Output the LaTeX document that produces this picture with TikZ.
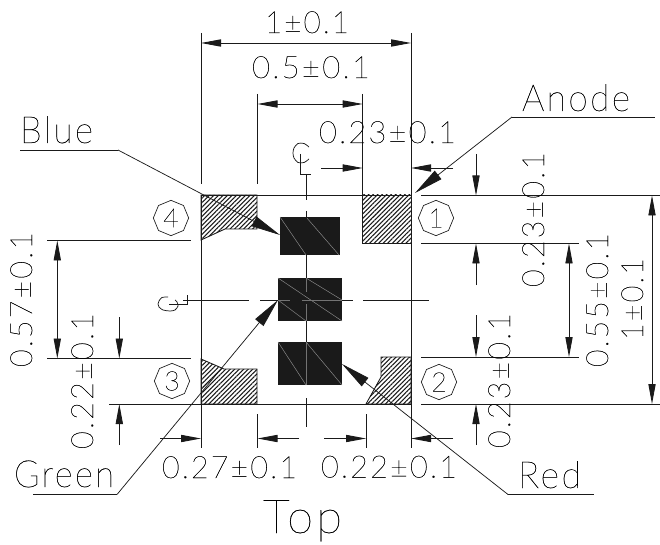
\documentclass[tikz,border=0pt]{standalone}
\usepackage{fontspec}
\usepackage{graphicx}
\setmainfont{Lato}[UprightFont=* Thin,LetterSpace=7,FakeBold=0.45]
\usetikzlibrary{arrows.meta,patterns.meta,shapes.geometric}
\newdimen\labw
\newcommand\fitlab[3]{\labw=#1pt\labw=.75\labw\resizebox{\labw}{\height}{\fontsize{#2}{#2}\selectfont #3}}
\definecolor{ink}{HTML}{1A1A1A}
\tikzset{
  lab/.style={inner sep=0pt,outer sep=0pt,anchor=base west,text=black},
  vlab/.style={lab,rotate=90},
  ln/.style={line width=.65pt,draw=ink},
  tin/.style={line width=.55pt,draw=ink},
  dimA/.style={ln,{Triangle[length=15pt,width=5.4pt]}-{Triangle[length=15pt,width=5.4pt]}},
  dimE/.style={ln,-{Triangle[length=15pt,width=5.4pt]}},
  lead/.style={tin,-{Triangle[length=22pt,width=8pt]}},
  pad/.style={ln,pattern={Lines[angle=45,distance=2.4pt,line width=.8pt]},pattern color=ink},
  chip/.style={fill=ink,draw=none},
  slash/.style={line width=.35pt,draw=black!45},
  slashc/.style={line width=.5pt,draw=black!55},
  ball/.style={regular polygon,regular polygon sides=8,shape border rotate=22.5,draw=ink,line width=.5pt,minimum size=26.5pt,inner sep=0pt,font=\fontsize{20}{20}\selectfont,text=black}
}
\begin{document}
\begin{tikzpicture}[x=.75pt,y=-.75pt]
\useasboundingbox (0,0) rectangle (660,545);
\fill[white] (0,0) rectangle (660,545);
% pads
\draw[pad] (201,195) -- (257,195) -- (257,229) -- (225,229) -- (201,240) -- cycle;
\draw[pad] (362.7,195) -- (411,195) -- (411,243) -- (362.7,243) -- cycle;
\draw[pad] (201,359) -- (224,369) -- (257,369) -- (257,404) -- (201,404) -- cycle;
\draw[pad] (381,357) -- (411,357) -- (411,404) -- (366,404) -- (381,377) -- cycle;
% chips
\fill[chip] (280,217) rectangle (339.5,255);
\fill[chip] (278,278) rectangle (342,321);
\fill[chip] (278,342) rectangle (342,385);
\draw[slash] (280,217) -- (306,255);
\draw[slash] (306,217) -- (339,255);
\draw[slash] (278,278) -- (342,321);
\draw[slash] (278,300) -- (306,321);
\draw[slash] (306,278) -- (342,300);
\draw[slash] (278,342) -- (306,385);
\draw[slash] (306,342) -- (342,385);
% outline lines
\draw[ln] (201,33) -- (201,184);
\draw[ln] (201,195) -- (201,448);
\draw[ln] (411,33) -- (411,448);
\draw[ln] (257.5,94) -- (257.5,184);
\draw[ln] (362.7,94) -- (362.7,195);
\draw[ln] (257.5,414) -- (257.5,448);
\draw[ln] (366,414) -- (366,448);
\draw[ln] (201,195.5) -- (411,195.5);
\draw[ln] (421,195.5) -- (660,195.5);
\draw[ln] (109,404) -- (411,404);
\draw[ln] (421,404) -- (660,404);
\draw[ln] (47,240.5) -- (191,240.5);
\draw[ln] (47,358.5) -- (191,358.5);
\draw[ln] (421,243.5) -- (579,243.5);
\draw[ln] (421,357) -- (579,357);
% centre lines
\draw[ln] (306,174) -- (306,200);
\draw[ln] (306,211) -- (306,278);
\draw[slashc] (306,278) -- (306,292);
\draw[slashc] (306,304) -- (306,321);
\draw[ln] (306,321) -- (306,342);
\draw[slashc] (306,342) -- (306,385);
\draw[ln] (306,398) -- (306,427);
\draw[ln] (183,300) -- (249,300);
\draw[ln] (260,300) -- (278,300);
\draw[slashc] (278,300) -- (290,300);
\draw[slashc] (302,300) -- (342,300);
\draw[ln] (342,300) -- (353,300);
\draw[ln] (363,300) -- (429,300);
% centre-line symbols
\draw[tin] plot[smooth] coordinates {(309,147) (304,143.5) (298,143.5) (294,148) (293,153) (294,158) (298,162.5) (304,162.5) (309,159)};
\draw[tin] (300,154) -- (300,174) -- (311,174);
\draw[tin] plot[smooth] coordinates {(168,297) (162,297.5) (159,301) (158,304) (159,307) (163,310) (170,311) (175,310) (178,306) (177,302) (175,300)};
\draw[tin] (169,304) -- (187,304) -- (187,295);
% horizontal dimensions
\draw[dimA] (201,43) -- (411,43);
\draw[dimA] (257.5,104) -- (362.7,104);
\draw[dimE] (321,168) -- (362.7,168);
\draw[dimE] (453,168) -- (411,168);
\draw[dimE] (160,438.5) -- (201,438.5);
\draw[dimE] (299,438.5) -- (257.5,438.5);
\draw[dimE] (324,438.5) -- (366,438.5);
\draw[dimE] (453,438.5) -- (411,438.5);
% vertical dimensions
\draw[dimA] (57.3,240.5) -- (57.3,358.5);
\draw[dimE] (119.3,317) -- (119.3,358.5);
\draw[dimE] (119.3,445) -- (119.3,404);
\draw[dimE] (476,154) -- (476,195.5);
\draw[dimE] (476,285) -- (476,243.5);
\draw[dimE] (476,315) -- (476,357);
\draw[dimE] (476,445) -- (476,404);
\draw[dimA] (569,243.5) -- (569,357);
\draw[dimA] (652,195.5) -- (652,404);
% leaders
\coordinate (blueK) at (118,150);
\coordinate (blueT) at (280,235);
\coordinate (greenK) at (117,494.5);
\coordinate (greenT) at (278,300);
\coordinate (redK) at (508,494.5);
\coordinate (redT) at (342,364);
\coordinate (anodeK) at (512,117);
\coordinate (anodeT) at (415,193);
\draw[lead] (blueK) -- (blueT);
\draw[tin] (20,150) -- (blueK);
\draw[lead] (greenK) -- (greenT);
\draw[tin] (33,494.5) -- (greenK);
\draw[lead] (redK) -- (redT);
\draw[tin] (redK) -- (594,494.5);
\draw[lead] (anodeK) -- (anodeT);
\draw[tin] (anodeK) -- (655,117);
% pin numbers
\node[ball] (p1) at (436,218) {1};
\node[ball] (p2) at (439,382) {2};
\node[ball] (p3) at (172,381) {3};
\node[ball] (p4) at (171,218) {4};
% dimension labels
\node[lab] (t1) at (265,33) {\fitlab{84}{23}{1±0.1}};
\node[lab] (t2) at (252,78) {\fitlab{118}{23}{0.5±0.1}};
\node[lab] (t3) at (319,143) {\fitlab{137}{23}{0.23±0.1}};
\node[lab] (t4) at (162,478) {\fitlab{135}{23}{0.27±0.1}};
\node[lab] (t5) at (321,477.5) {\fitlab{136}{23}{0.22±0.1}};
\node[vlab] (v1) at (32,367) {\fitlab{135}{23}{0.57±0.1}};
\node[vlab] (v2) at (93,449) {\fitlab{136}{23}{0.22±0.1}};
\node[vlab] (v3) at (544,287) {\fitlab{135}{23}{0.23±0.1}};
\node[vlab] (v4) at (510,448) {\fitlab{135}{23}{0.23±0.1}};
\node[vlab] (v5) at (608,367) {\fitlab{134}{23}{0.55±0.1}};
\node[vlab] (v6) at (643,340) {\fitlab{82}{23}{1±0.1}};
% names
\node[lab] (blue) at (20,143) {\fitlab{73}{28}{Blue}};
\node[lab] (anode) at (522,111) {\fitlab{108}{28}{Anode}};
\node[lab] (green) at (14,487) {\fitlab{100}{28}{Green}};
\node[lab] (red) at (518,488) {\fitlab{63}{28}{Red}};
\node[lab] (top) at (263,533) {\fitlab{79}{35}{Top}};
\end{tikzpicture}
\end{document}
